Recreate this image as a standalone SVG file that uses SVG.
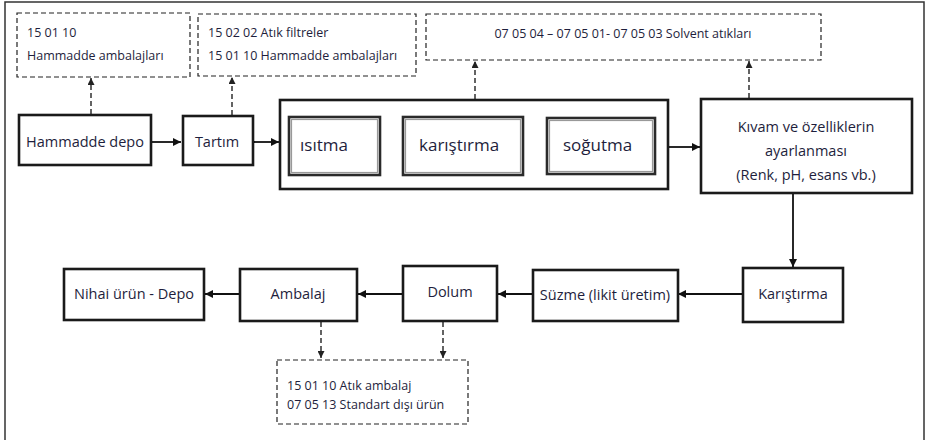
<svg xmlns="http://www.w3.org/2000/svg" width="926" height="440" viewBox="0 0 926 440">
<style>
.frame{fill:none;stroke:#333;stroke-width:1.5}
.box{fill:#fff;stroke:#1a1a1a;stroke-width:2.6}
.inner{fill:#fff;stroke:#2a2a2a;stroke-width:2.6}
.innerline{fill:none;stroke:#999;stroke-width:1.2}
.dash{fill:#fff;stroke:#222;stroke-width:1.2;stroke-dasharray:5,3}
.t{font-family:"Open Sans","Liberation Sans",sans-serif;fill:#1e1e3c}
.l{font-size:14.5px}
.s{font-size:12.5px}
.big{font-size:17px}
.c{text-anchor:middle}
.con{fill:none;stroke:#111;stroke-width:1.8}
.dcon{fill:none;stroke:#222;stroke-width:1.4;stroke-dasharray:5,3}
</style>
<defs>
<marker id="ah" viewBox="0 0 10 10" refX="10" refY="5" markerWidth="4.5" markerHeight="4.5" orient="auto" markerUnits="strokeWidth">
<path d="M0,0 L10,5 L0,10 z" fill="#111"/>
</marker>
<marker id="dah" viewBox="0 0 10 10" refX="10" refY="5" markerWidth="5" markerHeight="5" orient="auto" markerUnits="strokeWidth">
<path d="M0,0 L10,5 L0,10 z" fill="#222"/>
</marker>
</defs>
<rect width="926" height="440" fill="#fff"/>
<rect class="frame" x="5" y="2" width="919" height="445"/>

<g id="connectors">
<line class="con" x1="152" y1="142" x2="181" y2="142" marker-end="url(#ah)"/>
<line class="con" x1="254" y1="142" x2="279" y2="142" marker-end="url(#ah)"/>
<line class="con" x1="381" y1="146" x2="402" y2="146" marker-end="url(#ah)"/>
<line class="con" x1="524" y1="146" x2="546" y2="146" marker-end="url(#ah)"/>
<line class="con" x1="669" y1="147" x2="700" y2="147" marker-end="url(#ah)"/>
<line class="con" x1="793" y1="194" x2="793" y2="267" marker-end="url(#ah)"/>
<line class="con" x1="742" y1="294" x2="678" y2="294" marker-end="url(#ah)"/>
<line class="con" x1="532" y1="294" x2="498" y2="294" marker-end="url(#ah)"/>
<line class="con" x1="402" y1="294" x2="358" y2="294" marker-end="url(#ah)"/>
<line class="con" x1="239" y1="294" x2="205" y2="294" marker-end="url(#ah)"/>
<line class="dcon" x1="91" y1="114" x2="91" y2="78" marker-end="url(#dah)"/>
<line class="dcon" x1="232" y1="115" x2="232" y2="77" marker-end="url(#dah)"/>
<line class="dcon" x1="475" y1="99" x2="475" y2="61" marker-end="url(#dah)"/>
<line class="dcon" x1="749" y1="98" x2="749" y2="61" marker-end="url(#dah)"/>
<line class="dcon" x1="321" y1="322" x2="321" y2="358" marker-end="url(#dah)"/>
<line class="dcon" x1="443" y1="322" x2="443" y2="358" marker-end="url(#dah)"/>
</g>

<g id="waste1">
<rect class="dash" x="17" y="13" width="173" height="64"/>
<text class="t s" x="27" y="37">15 01 10</text>
<text class="t s" x="27" y="60">Hammadde ambalajları</text>
</g>
<g id="waste2">
<rect class="dash" x="198" y="14" width="218" height="62"/>
<text class="t s" x="208" y="37">15 02 02 Atık filtreler</text>
<text class="t s" x="208" y="60">15 01 10 Hammadde ambalajları</text>
</g>
<g id="waste3">
<rect class="dash" x="426" y="14" width="395" height="46"/>
<text class="t s c" x="623" y="38">07 05 04 – 07 05 01- 07 05 03 Solvent atıkları</text>
</g>

<g id="hammadde">
<rect class="box" x="19" y="115" width="132" height="50"/>
<text class="t l c" x="85" y="147">Hammadde depo</text>
</g>
<g id="tartim">
<rect class="box" x="183" y="116" width="70" height="49"/>
<text class="t l c" x="217" y="147">Tartım</text>
</g>
<g id="process">
<rect class="box" x="280" y="100" width="388" height="89"/>
</g>
<g id="isitma">
<rect class="inner" x="289" y="117" width="91" height="58"/>
<rect class="innerline" x="291.5" y="119.5" width="86" height="53"/>
<text class="t big" x="300" y="151">ısıtma</text>
</g>
<g id="karistirma1">
<rect class="inner" x="403" y="117" width="120" height="58"/>
<rect class="innerline" x="405.5" y="119.5" width="115" height="53"/>
<text class="t big" x="419" y="151">karıştırma</text>
</g>
<g id="sogutma">
<rect class="inner" x="547" y="118" width="108" height="56"/>
<rect class="innerline" x="549.5" y="120.5" width="103" height="51"/>
<text class="t big" x="563" y="151">soğutma</text>
</g>
<g id="kivam">
<rect class="box" x="701" y="99" width="211" height="94"/>
<text class="t l c" x="806" y="132">Kıvam ve özelliklerin</text>
<text class="t l c" x="806" y="156">ayarlanması</text>
<text class="t l c" x="806" y="180">(Renk, pH, esans vb.)</text>
</g>
<g id="karistirma2">
<rect class="box" x="743" y="268" width="100" height="54"/>
<text class="t l c" x="793" y="299">Karıştırma</text>
</g>
<g id="suzme">
<rect class="box" x="533" y="270" width="145" height="51"/>
<text class="t l c" x="605" y="300">Süzme (likit üretim)</text>
</g>
<g id="dolum">
<rect class="box" x="403" y="266" width="94" height="55"/>
<text class="t l c" x="450" y="297">Dolum</text>
</g>
<g id="ambalaj">
<rect class="box" x="240" y="269" width="117" height="52"/>
<text class="t l c" x="298" y="299">Ambalaj</text>
</g>
<g id="nihai">
<rect class="box" x="64" y="269" width="140" height="51"/>
<text class="t l c" x="134" y="299">Nihai ürün - Depo</text>
</g>
<g id="waste4">
<rect class="dash" x="277" y="360" width="191" height="64"/>
<text class="t s" x="287" y="390">15 01 10 Atık ambalaj</text>
<text class="t s" x="287" y="409">07 05 13 Standart dışı ürün</text>
</g>
</svg>
